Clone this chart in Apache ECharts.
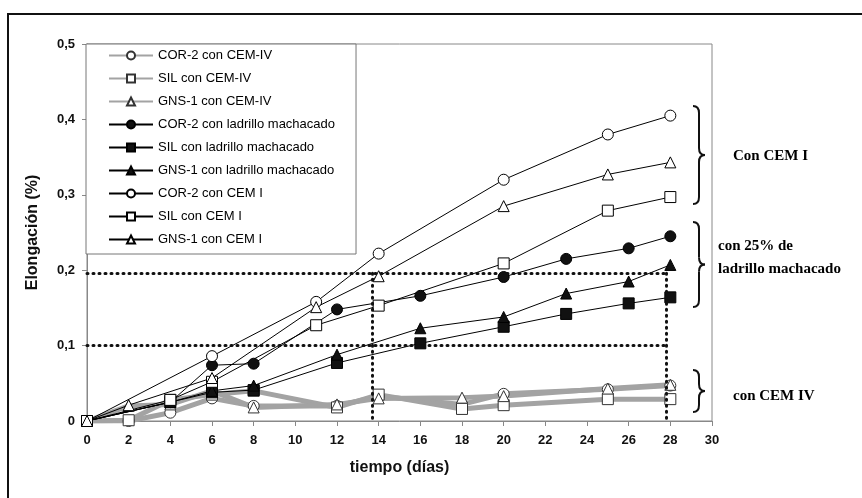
<!DOCTYPE html>
<html>
<head>
<meta charset="utf-8">
<script src="https://cdn.jsdelivr.net/npm/echarts@6/dist/echarts.min.js"></script>
<style>
  html, body { margin: 0; padding: 0; background: #fff; }
  #chart { width: 862px; height: 498px; }
</style>
</head>
<body>
<div id="chart"></div>
<script>
// datos
var names = [
    'COR-2 con CEM-IV', 'SIL con CEM-IV', 'GNS-1 con CEM-IV',
    'COR-2 con ladrillo machacado', 'SIL con ladrillo machacado', 'GNS-1 con ladrillo machacado',
    'COR-2 con CEM I', 'SIL con CEM I', 'GNS-1 con CEM I'
];

var diasIV = [0, 2, 4, 6, 8, 12, 14, 18, 20, 25, 28];
var cor2IV = [0, 0, 0.011, 0.03, 0.02, 0.02, 0.033, 0.022, 0.036, 0.042, 0.047];
var silIV  = [0, 0.001, 0.028, 0.035, 0.04, 0.018, 0.035, 0.016, 0.021, 0.029, 0.029];
var gns1IV = [0, 0.02, 0.022, 0.04, 0.018, 0.022, 0.03, 0.031, 0.033, 0.043, 0.048];

var diasLad = [0, 4, 6, 8, 12, 16, 20, 23, 26, 28];
var cor2Lad = [0, 0.025, 0.074, 0.076, 0.148, 0.166, 0.191, 0.215, 0.229, 0.245];
var silLad  = [0, 0.025, 0.038, 0.041, 0.077, 0.103, 0.125, 0.142, 0.156, 0.164];
var gns1Lad = [0, 0.025, 0.04, 0.047, 0.088, 0.123, 0.138, 0.169, 0.185, 0.207];

var diasCor2I = [0, 6, 11, 14, 20, 25, 28];
var cor2I     = [0, 0.086, 0.158, 0.222, 0.32, 0.38, 0.405];
var diasSilI  = [0, 4, 6, 11, 14, 20, 25, 28];
var silI      = [0, 0.028, 0.052, 0.127, 0.153, 0.209, 0.279, 0.297];
var diasGnsI  = [0, 2, 6, 11, 14, 20, 25, 28];
var gns1I     = [0, 0.021, 0.057, 0.151, 0.192, 0.285, 0.327, 0.343];

// lineas de puntos de referencia
var refY = [0.196, 0.1];
var refX = [13.7, 27.8];

var chart = echarts.init(document.getElementById('chart'));

function pares(xs, ys) {
    return xs.map(function (x, i) { return [x, ys[i]]; });
}

function serieIV(name, xs, ys, symbol) {
    return {
        name: name, type: 'line', data: pares(xs, ys),
        symbol: symbol, symbolSize: 11, z: 2,
        lineStyle: { color: '#a3a3a3', width: 5 },
        itemStyle: { color: '#fff', borderColor: '#333', borderWidth: 1 }
    };
}
function serieNegra(name, xs, ys, symbol, filled) {
    return {
        name: name, type: 'line', data: pares(xs, ys),
        symbol: symbol, symbolSize: 11, z: 3,
        lineStyle: { color: '#000', width: 1 },
        itemStyle: { color: filled ? '#111' : '#fff', borderColor: '#000', borderWidth: 1 }
    };
}

var refLines = [];
refY.forEach(function (y) {
    refLines.push([{ coord: [0, y] }, { coord: [refX[1], y] }]);
});
refX.forEach(function (x) {
    refLines.push([{ coord: [x, refY[0]] }, { coord: [x, 0] }]);
});

// llave "}" con curvas
function llave(x, top, bottom) {
    var mid = (top + bottom) / 2, h = 6, r = 7;
    var st = { fill: 'none', stroke: '#111', lineWidth: 2 };
    return {
        type: 'group',
        children: [
            { type: 'bezierCurve', shape: { x1: x, y1: top, cpx1: x + h, cpy1: top, x2: x + h, y2: top + r }, style: st },
            { type: 'line', shape: { x1: x + h, y1: top + r, x2: x + h, y2: mid - r }, style: st },
            { type: 'bezierCurve', shape: { x1: x + h, y1: mid - r, cpx1: x + h, cpy1: mid, x2: x + 2 * h, y2: mid }, style: st },
            { type: 'bezierCurve', shape: { x1: x + 2 * h, y1: mid, cpx1: x + h, cpy1: mid, x2: x + h, y2: mid + r }, style: st },
            { type: 'line', shape: { x1: x + h, y1: mid + r, x2: x + h, y2: bottom - r }, style: st },
            { type: 'bezierCurve', shape: { x1: x + h, y1: bottom - r, cpx1: x + h, cpy1: bottom, x2: x, y2: bottom }, style: st }
        ]
    };
}

var textoSerif = { fontFamily: 'Liberation Serif', fontWeight: 'bold', fontSize: 15, fill: '#000' };

var option = {
    animation: false,
    backgroundColor: '#fff',
    grid: {
        left: 87, right: 150, top: 44, bottom: 77,
        show: true, borderColor: '#888', borderWidth: 1
    },
    legend: {
        data: names,
        orient: 'vertical',
        left: 86, top: 44,
        padding: [5, 21, 8, 22],
        itemWidth: 44, itemHeight: 10, itemGap: 10,
        backgroundColor: '#fff',
        borderColor: '#777', borderWidth: 1,
        textStyle: { fontFamily: 'Liberation Sans', fontSize: 13, color: '#000' }
    },
    xAxis: {
        type: 'value', min: 0, max: 30, interval: 2,
        name: 'tiempo (días)', nameLocation: 'middle', nameGap: 39,
        nameTextStyle: { fontFamily: 'Liberation Sans', fontWeight: 'bold', fontSize: 16, color: '#111' },
        axisLine: { lineStyle: { color: '#888' } },
        axisTick: { length: 5, lineStyle: { color: '#888' } },
        axisLabel: { margin: 13, fontFamily: 'Liberation Sans', fontWeight: 'bold', fontSize: 13, color: '#111' },
        splitLine: { show: false }
    },
    yAxis: {
        type: 'value', min: 0, max: 0.5, interval: 0.1,
        name: 'Elongación (%)', nameLocation: 'middle', nameGap: 46,
        nameTextStyle: { fontFamily: 'Liberation Sans', fontWeight: 'bold', fontSize: 16, color: '#111' },
        axisLine: { show: true, lineStyle: { color: '#888' } },
        axisTick: { show: true, length: 5, lineStyle: { color: '#888' } },
        axisLabel: {
            margin: 12, fontFamily: 'Liberation Sans', fontWeight: 'bold', fontSize: 13, color: '#111',
            formatter: function (v) { return v === 0 ? '0' : v.toFixed(1).replace('.', ','); }
        },
        splitLine: { show: false }
    },
    series: [
        serieIV(names[0], diasIV, cor2IV, 'circle'),
        serieIV(names[1], diasIV, silIV, 'rect'),
        serieIV(names[2], diasIV, gns1IV, 'triangle'),
        serieNegra(names[3], diasLad, cor2Lad, 'circle', true),
        serieNegra(names[4], diasLad, silLad, 'rect', true),
        serieNegra(names[5], diasLad, gns1Lad, 'triangle', true),
        serieNegra(names[6], diasCor2I, cor2I, 'circle', false),
        serieNegra(names[7], diasSilI, silI, 'rect', false),
        serieNegra(names[8], diasGnsI, gns1I, 'triangle', false),
        {
            name: 'ref', type: 'line', data: [], z: 1,
            markLine: {
                silent: true, symbol: 'none', label: { show: false },
                lineStyle: { color: '#111', width: 3, type: [1, 5], cap: 'round' },
                data: refLines
            }
        }
    ],
    graphic: [
        { type: 'rect', shape: { x: 8, y: 14, width: 900, height: 600 }, style: { fill: 'none', stroke: '#111', lineWidth: 2 }, silent: true },
        llave(693, 106, 204),
        llave(693, 222, 307),
        llave(693, 370, 412),
        { type: 'text', left: 733, top: 149, style: Object.assign({ text: 'Con CEM I' }, textoSerif) },
        { type: 'text', left: 718, top: 239, style: Object.assign({ text: 'con 25% de' }, textoSerif) },
        { type: 'text', left: 718, top: 262, style: Object.assign({ text: 'ladrillo machacado' }, textoSerif) },
        { type: 'text', left: 733, top: 389, style: Object.assign({ text: 'con CEM IV' }, textoSerif) }
    ]
};

chart.setOption(option);
</script>
</body>
</html>
